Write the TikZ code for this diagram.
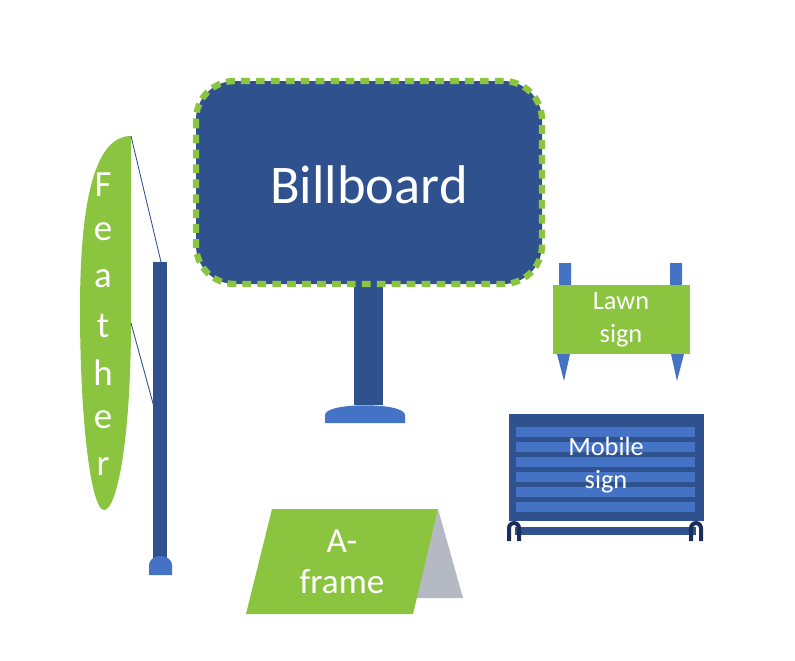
\documentclass[tikz,border=0pt]{standalone}
\usepackage{fontspec}
\setmainfont{Carlito}
\definecolor{darkblue}{HTML}{2F528F}
\definecolor{midblue}{HTML}{4472C4}
\definecolor{navy}{HTML}{1C2D5A}
\definecolor{leaf}{HTML}{8BC43F}
\definecolor{slate}{HTML}{B4B9C4}
\begin{document}
\begin{tikzpicture}[x=0.02cm, y=-0.02cm,
    label/.style={text=white, align=center, inner sep=0pt},
    stripe/.style={fill=midblue}
]
\useasboundingbox (0,0) rectangle (795,660);

% billboard
\fill[darkblue] (354,280) rectangle (383,405);
\fill[midblue] (325,423) -- (325,415) .. controls (325,402) and (405,402) .. (405,415) -- (405,423) -- cycle;
\filldraw[fill=darkblue, draw=leaf, line width=3.6pt, dash pattern=on 5pt off 3.5pt, rounded corners=22pt]
    (196,81) rectangle (542,284);
\node[label, font=\fontsize{31}{34}\selectfont] (bb) at (369,185) {Billboard};

% feather
\fill[darkblue] (153,262) rectangle (167,560);
\fill[midblue] (149,575) -- (149,565) arc[start angle=180, end angle=360, x radius=11.5, y radius=9] -- (172,575) -- cycle;
\fill[leaf] (131,136) -- (131,320) .. controls (131,440) and (117,510) .. (104,510)
    .. controls (91,510) and (80,420) .. (80,310) .. controls (80,200) and (95,136) .. (131,136) -- cycle;
\coordinate (ftop) at (131,136);
\coordinate (fmid) at (131,323);
\coordinate (ptop) at (161,262);
\coordinate (pmid) at (154,407);
\draw[darkblue, line width=0.5pt] (ftop) -- (ptop) (fmid) -- (pmid);
\foreach \ch [count=\i] in {F,e,a,t,h,e,r}
    \node[label, font=\fontsize{21}{24}\selectfont] (f\i) at (103,138+47*\i) {\ch};

% lawn sign
\fill[midblue] (559,263) rectangle (571,286) (670,263) rectangle (682,286);
\fill[midblue] (557,354) -- (570,354) -- (564,381) -- cycle (671,354) -- (684,354) -- (677,381) -- cycle;
\fill[leaf] (553,285) rectangle (690,354);
\node[label, font=\fontsize{15}{19}\selectfont] (lawn) at (621,320) {Lawn\\sign};

% mobile sign
\fill[darkblue] (509,414) rectangle (704,521);
\foreach \y in {427,442,457,472,487,502}
    \fill[stripe] (516,\y) rectangle (695,\y+9.5);
\fill[darkblue] (515,527) rectangle (696,535);
\foreach \x in {514,696}
    \fill[navy] (\x-7,541) -- (\x-7,528) arc[start angle=180, end angle=360, radius=7] -- (\x+7,541) -- (\x+3,541) -- (\x+3,528) arc[start angle=360, end angle=180, radius=3] -- (\x-3,541) -- cycle;
\node[label, font=\fontsize{15}{19}\selectfont] (mobile) at (606,465) {Mobile\\sign};

% A-frame
\fill[slate] (438,509) -- (463,598) -- (416,598) -- cycle;
\fill[leaf] (272,509) -- (438,509) -- (413,614) -- (246,614) -- cycle;
\node[label, font=\fontsize{20}{23}\selectfont] (aframe) at (342,562) {A-\\frame};
\end{tikzpicture}
\end{document}
